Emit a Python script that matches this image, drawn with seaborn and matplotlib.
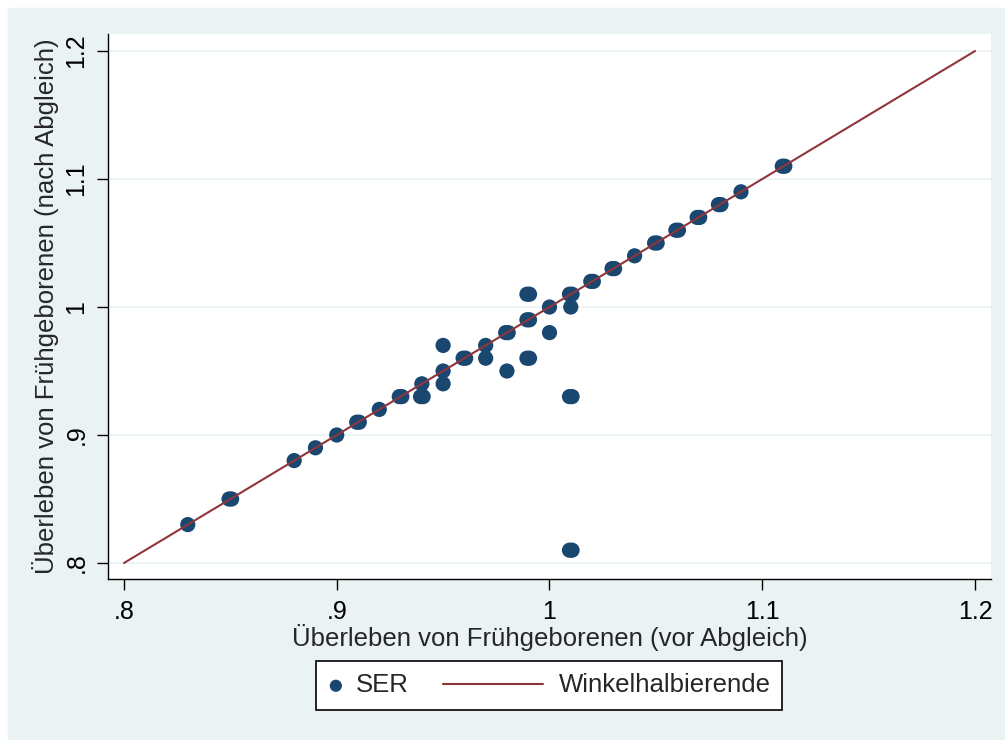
import matplotlib
matplotlib.use('Agg')
import matplotlib.pyplot as plt
import matplotlib.patches as mpatches
import pandas as pd
import seaborn as sns

# SER points (vor Abgleich, nach Abgleich)
vor = [0.83, 0.8494, 0.8506, 0.88, 0.89, 0.90, 0.9094, 0.9106, 0.92, 0.9294, 0.9306,
       0.94, 0.9394, 0.9406, 0.95, 0.95, 0.95, 0.9594, 0.9606, 0.97, 0.97,
       0.98, 0.9794, 0.9806, 0.9894, 0.9906, 0.9894, 0.9906, 0.9894, 0.9906,
       1.00, 1.00, 1.0094, 1.0106, 1.01, 1.0094, 1.0106, 1.0094, 1.0106,
       1.0194, 1.0206, 1.0294, 1.0306, 1.04, 1.0494, 1.0506, 1.0594, 1.0606,
       1.0694, 1.0706, 1.0794, 1.0806, 1.09, 1.1094, 1.1106]
nach = [0.83, 0.85, 0.85, 0.88, 0.89, 0.90, 0.91, 0.91, 0.92, 0.93, 0.93,
        0.94, 0.93, 0.93, 0.97, 0.95, 0.94, 0.96, 0.96, 0.97, 0.96,
        0.95, 0.98, 0.98, 1.01, 1.01, 0.99, 0.99, 0.96, 0.96,
        1.00, 0.98, 1.01, 1.01, 1.00, 0.93, 0.93, 0.81, 0.81,
        1.02, 1.02, 1.03, 1.03, 1.04, 1.05, 1.05, 1.06, 1.06,
        1.07, 1.07, 1.08, 1.08, 1.09, 1.11, 1.11]

diag = [0.8, 1.2]

ticks = [0.8, 0.9, 1.0, 1.1, 1.2]
tick_labels = ['.8', '.9', '1', '1.1', '1.2']

navy = '#1a476f'
maroon = '#90353b'
bg = '#eaf2f3'

df = pd.DataFrame({'vor': vor, 'nach': nach})
df_line = pd.DataFrame({'x': diag, 'y': diag})

sns.set_style('white')
plt.rcParams['font.family'] = ['Liberation Sans', 'DejaVu Sans']

W, H = 1005, 740
fig = plt.figure(figsize=(W / 100, H / 100), dpi=100, facecolor='white')
fig.patches.append(mpatches.Rectangle((8 / W, 0), 1, (H - 8) / H,
                                      transform=fig.transFigure, color=bg, zorder=-10))
ax = fig.add_axes([108 / W, 1 - 579 / H, (991 - 108) / W, (579 - 34) / H])
ax.set_facecolor('white')

sns.scatterplot(data=df, x='vor', y='nach', ax=ax, color=navy, s=120,
                edgecolor='none', label='SER', zorder=3)
sns.lineplot(data=df_line, x='x', y='y', ax=ax, color=maroon, linewidth=1.5,
             label='Winkelhalbierende', zorder=4)

ax.set_xlim(0.7925, 1.2075)
ax.set_ylim(0.7875, 1.2133)
ax.set_xticks(ticks)
ax.set_xticklabels(tick_labels)
ax.set_yticks(ticks)
ax.set_yticklabels(tick_labels, rotation=90, va='center')

ax.grid(axis='y', color=bg, linewidth=1.2)
ax.grid(axis='x', visible=False)
ax.set_axisbelow(True)

for s in ['top', 'right']:
    ax.spines[s].set_visible(False)
for s in ['left', 'bottom']:
    ax.spines[s].set_color('black')
    ax.spines[s].set_linewidth(1.0)

ax.tick_params(axis='both', direction='out', length=8, width=1.0, color='black',
               labelsize=18, labelcolor='black', left=True, bottom=True)
ax.tick_params(axis='x', pad=7)
ax.tick_params(axis='y', pad=6)

ax.set_xlabel('Überleben von Frühgeborenen (vor Abgleich)', fontsize=18.5, labelpad=0)
ax.set_ylabel('Überleben von Frühgeborenen (nach Abgleich)', fontsize=18.5, labelpad=4)

handles, labels = ax.get_legend_handles_labels()
ax.get_legend().remove()

# legend frame
fig.patches.append(mpatches.Rectangle((316 / W, 1 - 710 / H), (782 - 316) / W, 49 / H,
                                      transform=fig.transFigure, facecolor='white',
                                      edgecolor='black', linewidth=1.2, zorder=5))
yc = 1 - 685.5 / H
leg1 = fig.legend([handles[0]], [labels[0]], loc='center left', bbox_to_anchor=(323 / W, yc),
                  frameon=False, fontsize=18.5, handlelength=1.0, handletextpad=0.28,
                  borderpad=0, borderaxespad=0, markerscale=0.8)
leg2 = fig.legend([handles[1]], [labels[1]], loc='center left', bbox_to_anchor=(443 / W, yc),
                  frameon=False, fontsize=18.5, handlelength=3.9, handletextpad=0.62,
                  borderpad=0, borderaxespad=0)
leg1.set_zorder(6)
leg2.set_zorder(6)

fig.savefig('out.png', dpi=100, facecolor=fig.get_facecolor())
